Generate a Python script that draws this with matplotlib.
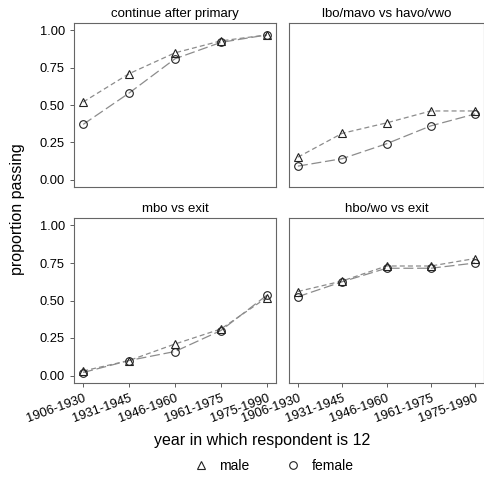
import matplotlib
matplotlib.use("Agg")
import matplotlib.pyplot as plt
import numpy as np

plt.rcParams['font.family'] = ['Liberation Sans', 'DejaVu Sans']

# cohort labels
periods = ['1906-1930', '1931-1945', '1946-1960', '1961-1975', '1975-1990']
panels = ['continue after primary', 'lbo/mavo vs havo/vwo', 'mbo vs exit', 'hbo/wo vs exit']

# proportions
male_cont = [0.52, 0.71, 0.85, 0.93, 0.97]
female_cont = [0.37, 0.58, 0.81, 0.92, 0.97]
male_lbo = [0.15, 0.31, 0.38, 0.46, 0.46]
female_lbo = [0.09, 0.14, 0.24, 0.36, 0.44]
male_mbo = [0.03, 0.10, 0.21, 0.31, 0.52]
female_mbo = [0.02, 0.10, 0.16, 0.30, 0.535]
male_hbo = [0.56, 0.63, 0.73, 0.73, 0.78]
female_hbo = [0.525, 0.625, 0.715, 0.715, 0.75]

male = [male_cont, male_lbo, male_mbo, male_hbo]
female = [female_cont, female_lbo, female_mbo, female_hbo]

W, H = 485, 480
fig = plt.figure(figsize=(W / 100, H / 100), dpi=100)

# panel boxes in pixels: (left, top, right, bottom)
boxes = [(74, 23, 276, 187), (289, 23, 484, 187),
         (74, 218, 276, 383), (289, 218, 484, 383)]

x = np.arange(1, 6)
edge = '#666666'
for i, (l, t, r, b) in enumerate(boxes):
    ax = fig.add_axes([l / W, 1 - b / H, (r - l) / W, (b - t) / H])
    ax.plot(x, male[i], color='#8c8c8c', lw=0.9, dashes=(4, 2.5), zorder=2)
    ax.plot(x, female[i], color='#8c8c8c', lw=0.9, dashes=(8, 3), zorder=2)
    ax.plot(x, male[i], ls='none', marker='^', ms=6, mfc='none', mec='#222222', mew=0.8, zorder=3)
    ax.plot(x, female[i], ls='none', marker='o', ms=5.5, mfc='none', mec='#222222', mew=0.8, zorder=3)
    ax.set_xlim(0.8, 5.2)
    ax.set_ylim(-0.05, 1.05)
    ax.set_title(panels[i], fontsize=9.5, pad=4)
    for s in ax.spines.values():
        s.set_color(edge)
        s.set_linewidth(0.8)
    ax.tick_params(colors='#444444', labelcolor='black', labelsize=9.3, length=3, width=0.6)
    ax.set_xticks(x)
    ax.set_yticks([0, 0.25, 0.5, 0.75, 1.0])
    if i >= 2:
        ax.set_xticklabels(periods, rotation=20, ha='right', rotation_mode='anchor')
    else:
        ax.tick_params(axis='x', length=0)
        ax.set_xticklabels([])
    if i % 2 == 0:
        ax.set_yticklabels(['0.00', '0.25', '0.50', '0.75', '1.00'])
    else:
        ax.tick_params(axis='y', length=0)
        ax.set_yticklabels([])

fig.text(18 / W, 1 - 209 / H, 'proportion passing', rotation=90, ha='center', va='center', fontsize=11.5)
fig.text(262 / W, 1 - 440 / H, 'year in which respondent is 12', ha='center', va='center', fontsize=11.5)

# legend
hm = plt.Line2D([], [], ls='none', marker='^', ms=6, mfc='none', mec='#222222', mew=0.8)
hf = plt.Line2D([], [], ls='none', marker='o', ms=5.5, mfc='none', mec='#222222', mew=0.8)
fig.legend([hm, hf], ['male', 'female'], loc='center', bbox_to_anchor=(270 / W, 1 - 466 / H),
           ncol=2, frameon=False, fontsize=10, handletextpad=0.3, columnspacing=2.2)

fig.savefig('out.png', dpi=100)
